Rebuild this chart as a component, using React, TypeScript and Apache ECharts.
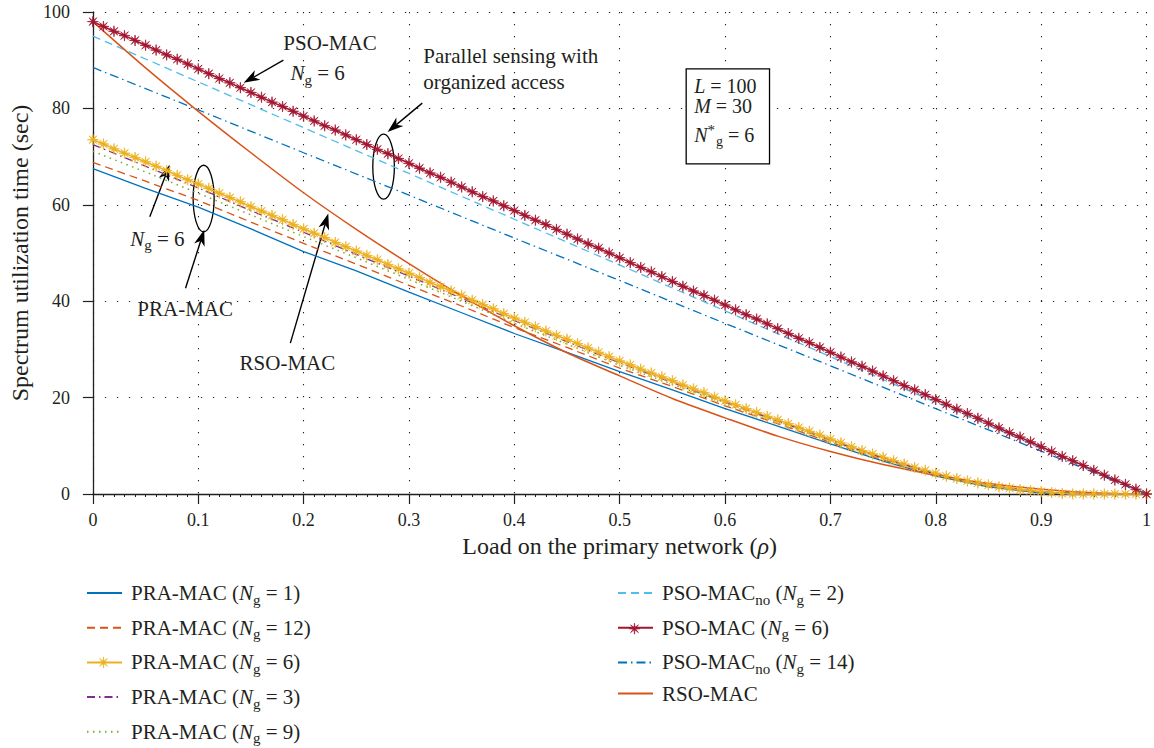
import React, { useEffect, useRef } from "react";
import * as echarts from "echarts";

// ---------- data ----------
const rhoFine = [
  0, 0.01, 0.02, 0.03, 0.04, 0.05, 0.06, 0.07, 0.08, 0.09,
  0.1, 0.11, 0.12, 0.13, 0.14, 0.15, 0.16, 0.17, 0.18, 0.19,
  0.2, 0.21, 0.22, 0.23, 0.24, 0.25, 0.26, 0.27, 0.28, 0.29,
  0.3, 0.31, 0.32, 0.33, 0.34, 0.35, 0.36, 0.37, 0.38, 0.39,
  0.4, 0.41, 0.42, 0.43, 0.44, 0.45, 0.46, 0.47, 0.48, 0.49,
  0.5, 0.51, 0.52, 0.53, 0.54, 0.55, 0.56, 0.57, 0.58, 0.59,
  0.6, 0.61, 0.62, 0.63, 0.64, 0.65, 0.66, 0.67, 0.68, 0.69,
  0.7, 0.71, 0.72, 0.73, 0.74, 0.75, 0.76, 0.77, 0.78, 0.79,
  0.8, 0.81, 0.82, 0.83, 0.84, 0.85, 0.86, 0.87, 0.88, 0.89,
  0.9, 0.91, 0.92, 0.93, 0.94, 0.95, 0.96, 0.97, 0.98, 0.99, 1,
];
const rhoHalfTenth = [
  0, 0.05, 0.1, 0.15, 0.2, 0.25, 0.3, 0.35, 0.4, 0.45, 0.5,
  0.55, 0.6, 0.65, 0.7, 0.75, 0.8, 0.85, 0.9, 0.95, 1,
];
const rhoTenth = [0, 0.1, 0.2, 0.3, 0.4, 0.5, 0.6, 0.7, 0.8, 0.9, 1];

const psoMacNg6 = [
  98.0, 97.0, 96.0, 95.1, 94.1, 93.1, 92.1, 91.1, 90.2, 89.2,
  88.2, 87.2, 86.2, 85.3, 84.3, 83.3, 82.3, 81.3, 80.4, 79.4,
  78.4, 77.4, 76.4, 75.5, 74.5, 73.5, 72.5, 71.5, 70.6, 69.6,
  68.6, 67.6, 66.6, 65.7, 64.7, 63.7, 62.7, 61.7, 60.8, 59.8,
  58.8, 57.8, 56.8, 55.9, 54.9, 53.9, 52.9, 51.9, 51.0, 50.0,
  49.0, 48.0, 47.0, 46.1, 45.1, 44.1, 43.1, 42.1, 41.2, 40.2,
  39.2, 38.2, 37.2, 36.3, 35.3, 34.3, 33.3, 32.3, 31.4, 30.4,
  29.4, 28.4, 27.4, 26.5, 25.5, 24.5, 23.5, 22.5, 21.6, 20.6,
  19.6, 18.6, 17.6, 16.7, 15.7, 14.7, 13.7, 12.7, 11.8, 10.8,
  9.8, 8.8, 7.8, 6.9, 5.9, 4.9, 3.9, 2.9, 2.0, 1.0, 0,
];
const praMacNg6 = [
  73.5, 72.6, 71.6, 70.7, 69.8, 68.9, 68.0, 67.1, 66.1, 65.2,
  64.3, 63.4, 62.4, 61.5, 60.6, 59.6, 58.7, 57.8, 56.9, 55.9,
  55.0, 54.1, 53.2, 52.2, 51.3, 50.4, 49.5, 48.6, 47.6, 46.7,
  45.8, 44.9, 43.9, 43.0, 42.1, 41.2, 40.2, 39.3, 38.4, 37.4,
  36.5, 35.6, 34.7, 33.8, 32.9, 32.1, 31.2, 30.3, 29.4, 28.5,
  27.6, 26.8, 25.9, 25.1, 24.3, 23.5, 22.6, 21.8, 21.0, 20.1,
  19.3, 18.5, 17.7, 16.9, 16.1, 15.4, 14.6, 13.8, 13.0, 12.2,
  11.4, 10.6, 9.8, 9.0, 8.3, 7.6, 6.9, 6.2, 5.5, 4.9,
  4.3, 3.7, 3.2, 2.7, 2.3, 1.9, 1.5, 1.2, 0.9, 0.7,
  0.5, 0.3, 0.1, 0, 0, 0, 0, 0, 0, 0, 0,
];
const praMacNg1 = [67.5, 63.4, 59.5, 55.0, 50.3, 46.3, 41.9, 37.6, 33.3, 29.4, 25.4, 21.6, 17.7, 14.1, 10.4, 6.8, 3.7, 1.5, 0.2, 0, 0];
const praMacNg12 = [68.8, 64.9, 60.9, 56.4, 52.0, 47.7, 43.3, 39.0, 34.5, 30.4, 26.1, 22.3, 18.3, 14.6, 10.7, 7.1, 3.9, 1.6, 0.3, 0, 0];
const praMacNg3 = [72.5, 68.0, 63.5, 58.8, 54.3, 49.7, 45.2, 40.6, 36.0, 31.6, 27.2, 23.1, 19.0, 15.1, 11.1, 7.4, 4.1, 1.8, 0.4, 0, 0];
const praMacNg9 = [71.1, 66.8, 62.4, 57.9, 53.4, 49.0, 44.5, 40.0, 35.4, 31.1, 26.7, 22.8, 18.7, 14.9, 11.0, 7.3, 4.0, 1.7, 0.4, 0, 0];
const psoMacNoNg2 = [95.0, 85.5, 76.0, 66.5, 57.0, 47.5, 38.0, 28.5, 19.0, 9.5, 0];
const psoMacNoNg14 = [88.5, 79.7, 70.8, 62.0, 53.1, 44.3, 35.4, 26.6, 17.7, 8.9, 0];
const rsoMac = [98.0, 88.4, 79.4, 70.8, 62.5, 54.9, 47.8, 41.1, 34.9, 29.3, 24.5, 19.8, 15.8, 12.0, 8.8, 6.1, 3.9, 2.2, 1.0, 0.25, 0];

const xTickLabels = ["0", "0.1", "0.2", "0.3", "0.4", "0.5", "0.6", "0.7", "0.8", "0.9", "1"];

const names = {
  pra1: "PRA-MAC (Ng = 1)",
  pra12: "PRA-MAC (Ng = 12)",
  pra6: "PRA-MAC (Ng = 6)",
  pra3: "PRA-MAC (Ng = 3)",
  pra9: "PRA-MAC (Ng = 9)",
  pso2: "PSO-MACno (Ng = 2)",
  pso6: "PSO-MAC (Ng = 6)",
  pso14: "PSO-MACno (Ng = 14)",
  rso: "RSO-MAC",
};
const legendRich: Record<string, string> = {
  [names.pra1]: "PRA-MAC ({n|N}{s|g} = 1)",
  [names.pra12]: "PRA-MAC ({n|N}{s|g} = 12)",
  [names.pra6]: "PRA-MAC ({n|N}{s|g} = 6)",
  [names.pra3]: "PRA-MAC ({n|N}{s|g} = 3)",
  [names.pra9]: "PRA-MAC ({n|N}{s|g} = 9)",
  [names.pso2]: "PSO-MAC{s|no} ({n|N}{s|g} = 2)",
  [names.pso6]: "PSO-MAC ({n|N}{s|g} = 6)",
  [names.pso14]: "PSO-MAC{s|no} ({n|N}{s|g} = 14)",
  [names.rso]: "RSO-MAC",
};

const FONT = "'Liberation Serif', 'Times New Roman', serif";
const INK = "#231f20";
const C_PSO6 = "#A2142F";
const C_PRA6 = "#EDB120";

// 8-armed asterisk marker (unit box 0..100)
const STAR_PTS = [
  [100, 50], [60.16, 54.21], [85.36, 85.36], [54.21, 60.16], [50, 100], [45.79, 60.16],
  [14.64, 85.36], [39.84, 54.21], [0, 50], [39.84, 45.79], [14.64, 14.64], [45.79, 39.84],
  [50, 0], [54.21, 39.84], [85.36, 14.64], [60.16, 45.79],
];
const STAR = "path://M" + STAR_PTS.map((p) => p[0] + " " + p[1]).join(" L") + " Z";

const zip = (xs: number[], ys: number[]) => xs.map((x, i) => [x, ys[i]]);

// annotations in data coordinates
const annoTexts = [
  { x: 0.225, y: 93.6, text: "PSO-MAC", align: "center" },
  { x: 0.2133, y: 87.3, text: "{n|N}{s|g} = 6", align: "center" },
  { x: 0.3136, y: 90.9, text: "Parallel sensing with", align: "left" },
  { x: 0.3136, y: 85.5, text: "organized access", align: "left" },
  { x: 0.0612, y: 53.0, text: "{n|N}{s|g} = 6", align: "center" },
  { x: 0.0876, y: 38.3, text: "PRA-MAC", align: "center" },
  { x: 0.1846, y: 27.1, text: "RSO-MAC", align: "center" },
];
const annoArrows = [
  { from: [0.1808, 90.0], to: [0.1431, 85.3] },
  { from: [0.3126, 81.1], to: [0.2797, 75.1] },
  { from: [0.054, 57.5], to: [0.0728, 68.3] },
  { from: [0.0879, 42.7], to: [0.1057, 54.8] },
  { from: [0.1874, 31.3], to: [0.2234, 58.2] },
];
const annoEllipses = [
  { x: 0.2759, y: 67.9, rx: 10.8, ry: 32.5 },
  { x: 0.1051, y: 61.3, rx: 10.5, ry: 33.3 },
];
const paramBox = { x1: 0.5631, y1: 88.2, x2: 0.6422, y2: 68.5 };

const mkRich = (size: number, lh: number) => ({
  n: { fontStyle: "italic", fontFamily: FONT, fontSize: size, lineHeight: lh, color: INK },
  s: { fontFamily: FONT, fontSize: Math.round(size * 0.7), lineHeight: 12, padding: [13, 0, 0, 0], color: INK },
  sup: { fontFamily: FONT, fontSize: Math.round(size * 0.75), lineHeight: 10, padding: [0, 1, 10, 0], color: INK },
  i: { fontStyle: "italic", fontFamily: FONT, fontSize: size, lineHeight: lh, color: INK },
});

function arrowEls(x1: number, y1: number, x2: number, y2: number) {
  const dx = x2 - x1, dy = y2 - y1;
  const len = Math.hypot(dx, dy);
  const ux = dx / len, uy = dy / len;
  const L = 16, W = 5.5;
  const bx = x2 - ux * L, by = y2 - uy * L;
  const nx = -uy, ny = ux;
  const mx = x2 - ux * L * 0.72, my = y2 - uy * L * 0.72;
  return [
    { type: "line", silent: true, shape: { x1, y1, x2: mx, y2: my }, style: { stroke: "#000", lineWidth: 1.4 } },
    {
      type: "polygon",
      silent: true,
      shape: { points: [[x2, y2], [bx + nx * W, by + ny * W], [mx, my], [bx - nx * W, by - ny * W]] },
      style: { fill: "#000" },
    },
  ];
}

function starEl(cx: number, cy: number, size: number, color: string) {
  return {
    type: "polygon",
    silent: true,
    z: 20,
    shape: { points: STAR_PTS.map((p) => [cx + ((p[0] - 50) / 100) * size, cy + ((p[1] - 50) / 100) * size]) },
    style: { fill: color, stroke: color, lineWidth: 0.7 },
  };
}

// legend layout
const LEG_TOP = 574;
const LEG_GAP = 6.7;
const LEG_ROW = 33.7;
const LEG_FIRST = 21;
const LEG_LEFT_A = 81;
const LEG_LEFT_B = 612;
const LEG_ICON_W = 35;

export default function App() {
  const ref = useRef<HTMLDivElement>(null);
  useEffect(() => {
    if (!ref.current) return;
    const chart = echarts.init(ref.current, null, { renderer: "svg" });
    const plain = { symbol: "none", smooth: false, silent: true, emphasis: { disabled: true } };
    const series: any[] = [
      { ...plain, name: names.pra1, type: "line", data: zip(rhoHalfTenth, praMacNg1), itemStyle: { color: "#0072BD" }, lineStyle: { color: "#0072BD", width: 1.3 } },
      { ...plain, name: names.pra12, type: "line", data: zip(rhoHalfTenth, praMacNg12), itemStyle: { color: "#D95319" }, lineStyle: { color: "#D95319", width: 1.3, type: [8, 5] } },
      {
        name: names.pra6, type: "line", data: zip(rhoFine, praMacNg6), silent: true, emphasis: { disabled: true },
        symbol: STAR, symbolSize: 11, showSymbol: true,
        itemStyle: { color: C_PRA6, borderColor: C_PRA6, borderWidth: 0.7 },
        lineStyle: { color: C_PRA6, width: 1.6 },
      },
      { ...plain, name: names.pra3, type: "line", data: zip(rhoHalfTenth, praMacNg3), itemStyle: { color: "#7E2F8E" }, lineStyle: { color: "#7E2F8E", width: 1.3, type: [8, 4, 1.5, 4] } },
      { ...plain, name: names.pra9, type: "line", data: zip(rhoHalfTenth, praMacNg9), itemStyle: { color: "#77AC30" }, lineStyle: { color: "#77AC30", width: 1.5, type: [1.5, 4.5] } },
      { ...plain, name: names.pso2, type: "line", data: zip(rhoTenth, psoMacNoNg2), itemStyle: { color: "#4DBEEE" }, lineStyle: { color: "#4DBEEE", width: 1.3, type: [8, 5] } },
      {
        name: names.pso6, type: "line", data: zip(rhoFine, psoMacNg6), silent: true, emphasis: { disabled: true },
        symbol: STAR, symbolSize: 11, showSymbol: true,
        itemStyle: { color: C_PSO6, borderColor: C_PSO6, borderWidth: 0.7 },
        lineStyle: { color: C_PSO6, width: 1.6 },
      },
      { ...plain, name: names.pso14, type: "line", data: zip(rhoTenth, psoMacNoNg14), itemStyle: { color: "#0072BD" }, lineStyle: { color: "#0072BD", width: 1.3, type: [9, 4, 1.5, 4] } },
      { ...plain, name: names.rso, type: "line", data: zip(rhoHalfTenth, rsoMac), smooth: 0.3, itemStyle: { color: "#D95319" }, lineStyle: { color: "#D95319", width: 1.5 } },
    ];

    const legendText = {
      fontFamily: FONT,
      fontSize: 21,
      lineHeight: 20,
      color: INK,
      padding: [0, 0, 0, 4],
      rich: mkRich(21, 20),
    };
    const legItem = (n: string) => ({ name: n, itemStyle: { opacity: 0 } });
    const legendBase = {
      orient: "vertical",
      itemWidth: LEG_ICON_W,
      itemHeight: 14,
      itemGap: LEG_GAP,
      height: 190,
      selectedMode: false,
      formatter: (n: string) => legendRich[n] || n,
      textStyle: legendText,
    };
    const leftNames = [names.pra1, names.pra12, names.pra6, names.pra3, names.pra9];
    const rightNames = [names.pso2, names.pso6, names.pso14, names.rso];

    const splitStyle = { show: true, lineStyle: { color: INK, width: 1.1, type: [1.3, 10.7] } };

    chart.setOption({
      animation: false,
      backgroundColor: "#ffffff",
      textStyle: { fontFamily: FONT },
      grid: { left: 86, right: 6, top: 12, bottom: 254, containLabel: false },
      xAxis: {
        type: "value",
        min: 0,
        max: 1,
        interval: 0.1,
        name: "Load on the primary network ({i|ρ})",
        nameLocation: "middle",
        nameGap: 42,
        nameTextStyle: { fontFamily: FONT, fontSize: 24, lineHeight: 20, color: INK, rich: mkRich(24, 20) },
        axisLine: { show: true, onZero: false, lineStyle: { color: INK, width: 1.3 } },
        axisTick: { show: true, inside: false, length: 10, lineStyle: { color: INK, width: 1.2 } },
        minorTick: { show: true, splitNumber: 10, length: 3, lineStyle: { color: INK, width: 1 } },
        axisLabel: {
          fontFamily: FONT, fontSize: 18, color: INK, margin: 17,
          formatter: (v: number) => xTickLabels[Math.round(v * 10)],
        },
        splitLine: splitStyle,
      },
      yAxis: {
        type: "value",
        min: 0,
        max: 100,
        interval: 20,
        name: "Spectrum utilization time (sec)",
        nameLocation: "middle",
        nameGap: 55,
        nameTextStyle: { fontFamily: FONT, fontSize: 24, color: INK },
        axisLine: { show: true, onZero: false, lineStyle: { color: INK, width: 1.3 } },
        axisTick: { show: true, inside: false, length: 10, lineStyle: { color: INK, width: 1.2 } },
        axisLabel: { fontFamily: FONT, fontSize: 18, color: INK, margin: 23 },
        splitLine: splitStyle,
      },
      legend: [
        { ...legendBase, left: LEG_LEFT_A, top: LEG_TOP, data: leftNames.map(legItem) },
        { ...legendBase, left: LEG_LEFT_B, top: LEG_TOP, data: rightNames.map(legItem) },
      ],
      series,
    });

    // annotations, placed through the axes' own scales
    const px = (x: number, y: number) => chart.convertToPixel({ gridIndex: 0 }, [x, y]) as number[];
    const annoRich = mkRich(21, 20);
    const els: any[] = [];
    annoTexts.forEach((t) => {
      const p = px(t.x, t.y);
      els.push({
        type: "text",
        silent: true,
        x: p[0],
        y: p[1],
        style: {
          text: t.text,
          fontFamily: FONT,
          fontSize: 21,
          lineHeight: 20,
          fill: INK,
          align: t.align,
          verticalAlign: "middle",
          rich: annoRich,
        },
      });
    });
    annoArrows.forEach((a) => {
      const p1 = px(a.from[0], a.from[1]);
      const p2 = px(a.to[0], a.to[1]);
      els.push(...arrowEls(p1[0], p1[1], p2[0], p2[1]));
    });
    annoEllipses.forEach((e) => {
      const c = px(e.x, e.y);
      els.push({
        type: "ellipse",
        silent: true,
        shape: { cx: c[0], cy: c[1], rx: e.rx, ry: e.ry },
        style: { fill: "none", stroke: "#000", lineWidth: 1.3 },
      });
    });
    const b1 = px(paramBox.x1, paramBox.y1);
    const b2 = px(paramBox.x2, paramBox.y2);
    els.push({
      type: "rect",
      silent: true,
      shape: { x: b1[0], y: b1[1], width: b2[0] - b1[0], height: b2[1] - b1[1] },
      style: { fill: "#ffffff", stroke: "#000", lineWidth: 1.3 },
      z: 10,
    });
    const boxRich = mkRich(20, 16);
    const bx = b1[0] + 8;
    const boxLines = [
      { dy: 17, text: "{n|L} = 100" },
      { dy: 37, text: "{n|M} = 30" },
      { dy: 66, text: "{n|N}{sup|*}{s|g} = 6" },
    ];
    boxLines.forEach((l) => {
      els.push({
        type: "text",
        silent: true,
        z: 11,
        x: bx,
        y: b1[1] + l.dy,
        style: {
          text: l.text,
          fontFamily: FONT,
          fontSize: 20,
          lineHeight: 16,
          fill: INK,
          align: "left",
          verticalAlign: "middle",
          rich: boxRich,
        },
      });
    });

    // legend marker stars (the legend's own symbols are hidden)
    const rowCenter = (i: number) => LEG_TOP + LEG_FIRST + i * LEG_ROW;
    els.push(starEl(LEG_LEFT_A + 5 + LEG_ICON_W / 2, rowCenter(leftNames.indexOf(names.pra6)), 11, C_PRA6));
    els.push(starEl(LEG_LEFT_B + 5 + LEG_ICON_W / 2, rowCenter(rightNames.indexOf(names.pso6)), 11, C_PSO6));

    chart.setOption({ graphic: { elements: els } });

    return () => chart.dispose();
  }, []);

  return (
    <div
      ref={ref}
      style={{ position: "absolute", left: 0, top: 0, width: 1154, height: 748, background: "#fff" }}
    />
  );
}
